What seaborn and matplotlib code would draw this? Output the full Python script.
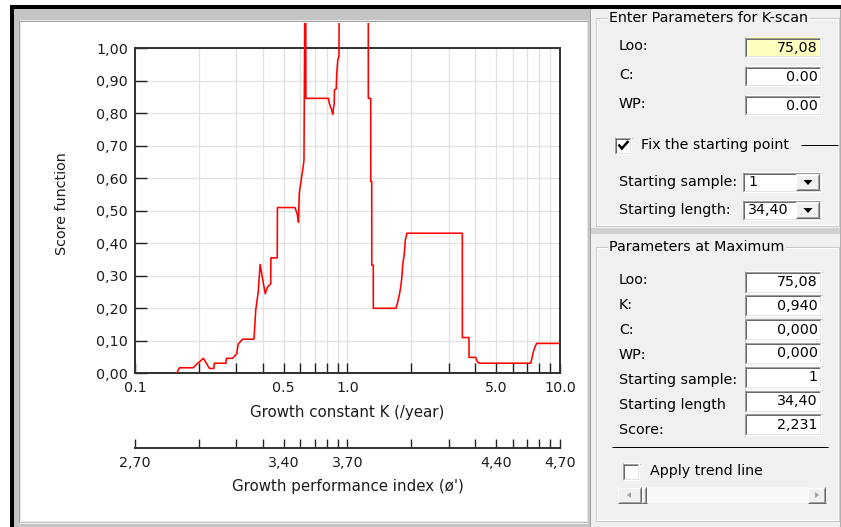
import numpy as np
import pandas as pd
import matplotlib
matplotlib.use("Agg")
import matplotlib.pyplot as plt
import seaborn as sns
from matplotlib.patches import Rectangle, Polygon

# ---------------- data ----------------
K_VALUES = [
    0.157, 0.162, 0.188, 0.195, 0.210, 0.224, 0.235, 0.236, 0.268, 0.269, 0.288, 0.301, 0.306, 0.321,
    0.363, 0.370, 0.380, 0.388, 0.395, 0.410, 0.420, 0.435, 0.436, 0.467, 0.468,
    0.566, 0.580, 0.588, 0.593, 0.604, 0.615, 0.624, 0.635, 0.637,
    0.812, 0.822, 0.843, 0.852, 0.866, 0.868, 0.885, 0.890, 0.900, 0.912, 0.916,
    0.940, 1.050, 1.150, 1.252, 1.253, 1.286, 1.287, 1.300, 1.301, 1.322, 1.323,
    1.691, 1.716, 1.753, 1.780, 1.800, 1.819, 1.851, 1.871, 1.905,
    3.470, 3.471, 3.730, 3.731, 4.010, 4.080, 4.160,
    7.280, 7.380, 7.490, 7.630, 7.770, 10.0,
]
SCORES = [
    0.000, 0.017, 0.017, 0.028, 0.046, 0.015, 0.015, 0.031, 0.031, 0.046, 0.046, 0.060, 0.090, 0.105,
    0.105, 0.195, 0.250, 0.335, 0.305, 0.245, 0.265, 0.275, 0.355, 0.355, 0.510,
    0.510, 0.490, 0.465, 0.555, 0.590, 0.625, 0.655, 1.600, 0.846,
    0.846, 0.830, 0.810, 0.797, 0.830, 0.872, 0.875, 0.923, 0.965, 0.975, 1.500,
    2.231, 2.000, 1.700, 1.500, 0.846, 0.846, 0.590, 0.590, 0.333, 0.333, 0.200,
    0.200, 0.215, 0.241, 0.266, 0.292, 0.333, 0.369, 0.410, 0.431,
    0.431, 0.110, 0.110, 0.049, 0.049, 0.036, 0.031,
    0.031, 0.046, 0.066, 0.082, 0.092, 0.092,
]
K_TICKS = [0.1, 0.2, 0.3, 0.4, 0.5, 0.6, 0.7, 0.8, 0.9, 1, 2, 3, 4, 5, 6, 7, 8, 9, 10]
K_TICK_LABELS = ["0.1", "", "", "", "0.5", "", "", "", "", "1.0",
                 "", "", "", "5.0", "", "", "", "", "10.0"]
PHI_TICK_LABELS = ["2,70", "", "", "", "3,40", "", "", "", "", "3,70",
                   "", "", "", "4,40", "", "", "", "", "4,70"]
SCORE_TICKS = [0.0, 0.1, 0.2, 0.3, 0.4, 0.5, 0.6, 0.7, 0.8, 0.9, 1.0]
SCORE_TICK_LABELS = ["0,00", "0,10", "0,20", "0,30", "0,40", "0,50",
                     "0,60", "0,70", "0,80", "0,90", "1,00"]

KSCAN_FIELDS = ["Loo:", "C:", "WP:"]
KSCAN_VALUES = ["75,08", "0.00", "0.00"]
MAX_FIELDS = ["Loo:", "K:", "C:", "WP:", "Starting sample:", "Starting length", "Score:"]
MAX_VALUES = ["75,08", "0,940", "0,000", "0,000", "1", "34,40", "2,231"]

# ---------------- figure ----------------
W, H = 841, 527
plt.rcParams["font.family"] = ["DejaVu Sans"]
FS = 10.3
TXT = "#1c1c1c"
fig = plt.figure(figsize=(W / 100, H / 100), dpi=100)
fig.patch.set_facecolor("white")

bg = fig.add_axes([0, 0, 1, 1])
bg.set_xlim(0, W)
bg.set_ylim(H, 0)
bg.axis("off")
bg.set_zorder(0)

PX = 0.72  # 1 px in points


def rect(x0, y0, x1, y1, fc, ec="none", lw=0, z=1):
    bg.add_patch(Rectangle((x0, y0), x1 - x0, y1 - y0, facecolor=fc,
                           edgecolor=ec, linewidth=lw, zorder=z))


def hline(x0, x1, y, c, w=1, z=2):
    bg.plot([x0, x1], [y, y], color=c, lw=w * PX, solid_capstyle="butt", zorder=z)


def vline(x, y0, y1, c, w=1, z=2):
    bg.plot([x, x], [y0, y1], color=c, lw=w * PX, solid_capstyle="butt", zorder=z)


def sunken(x0, y0, x1, y1, fc="white"):
    rect(x0, y0, x1, y1, fc, z=2)
    hline(x0, x1, y0 + 0.5, "#a0a0a0", z=3)
    vline(x0 + 0.5, y0, y1, "#a0a0a0", z=3)
    hline(x0 + 1, x1 - 1, y0 + 1.5, "#696969", z=3)
    vline(x0 + 1.5, y0 + 1, y1 - 1, "#696969", z=3)
    hline(x0, x1, y1 - 0.5, "#ffffff", z=3)
    vline(x1 - 0.5, y0, y1, "#ffffff", z=3)
    hline(x0 + 1, x1 - 1, y1 - 1.5, "#e3e3e3", z=3)
    vline(x1 - 1.5, y0 + 1, y1 - 1, "#e3e3e3", z=3)


def raised(x0, y0, x1, y1, fc="#f0f0f0"):
    rect(x0, y0, x1, y1, fc, z=4)
    hline(x0, x1, y0 + 0.5, "#ffffff", z=5)
    vline(x0 + 0.5, y0, y1, "#ffffff", z=5)
    hline(x0, x1, y1 - 0.5, "#696969", z=5)
    vline(x1 - 0.5, y0, y1, "#696969", z=5)
    hline(x0 + 1, x1 - 1, y1 - 1.5, "#a0a0a0", z=5)
    vline(x1 - 1.5, y0 + 1, y1 - 1, "#a0a0a0", z=5)


def label(x, y, s, ha="left", size=FS, color="#000000", z=6, **kw):
    bg.text(x, y, s, ha=ha, va="center", fontsize=size, color=color, zorder=z, **kw)


# window chrome: black frame
rect(10, 5, W, 9, "#000000", z=1)
rect(10, 5, 14, H, "#000000", z=1)
# left panel frame and white chart area
rect(14, 9, 593, H, "#c4c4c4", z=1)
rect(19, 20, 588, 522, "#e8e8e8", z=1)
rect(21, 22, 587, 521, "white", z=1)
hline(19, 588, 20.5, "#a0a0a0")
vline(19.5, 20, 522, "#a0a0a0")
hline(19, 588, 522.5, "#f4f4f4")
vline(590.5, 9, H, "#a0a0a0")
# right panel
rect(591, 9, W, H, "#f0f0f0", z=1)
vline(840.5, 9, H, "#b0b0b0")
rect(591, 228, W, 234, "#d0d0d0", z=1)


def groupbox(x0, y0, x1, y1, title):
    bg.add_patch(Rectangle((x0, y0), x1 - x0, y1 - y0, facecolor="none",
                           edgecolor="#c8c8c8", lw=PX, zorder=2))
    bg.add_patch(Rectangle((x0 + 1, y0 + 1), x1 - x0 - 2, y1 - y0 - 2, facecolor="none",
                           edgecolor="#ffffff", lw=PX, zorder=2))
    bg.text(x0 + 13, y0, title, ha="left", va="center", fontsize=FS, color="#000000",
            zorder=6, bbox=dict(facecolor="#f0f0f0", edgecolor="none", pad=1.0))


groupbox(596, 18, 839, 226, "Enter Parameters for K-scan")
groupbox(596, 247, 839, 521, "Parameters at Maximum")

# group 1 fields
for i, (name, val) in enumerate(zip(KSCAN_FIELDS, KSCAN_VALUES)):
    yc = 47 + 29 * i
    fill = "#ffffc0" if i == 0 else "white"
    label(619, yc - 1, name)
    sunken(745, yc - 10, 822, yc + 10, fc=fill)
    label(818, yc + 1, val, ha="right")

# checkbox "Fix the starting point"
sunken(615, 137, 632, 154)
bg.plot([618.5, 621.8, 628.5], [144.5, 148.5, 141.0], color="#000000", lw=2.0 * PX * 1.2,
        solid_capstyle="butt", solid_joinstyle="miter", zorder=6)
label(641, 145, "Fix the starting point")
hline(801, 838, 145, "#000000")

# combo boxes
COMBO_LABELS = ["Starting sample:", "Starting length:"]
COMBO_VALUES = ["1", "34,40"]
for i, (name, val) in enumerate(zip(COMBO_LABELS, COMBO_VALUES)):
    yc = 182 + 28 * i
    label(619, yc, name)
    sunken(743, yc - 10, 822, yc + 10)
    label(748, yc, val)
    raised(796, yc - 8, 820, yc + 8)
    bg.add_patch(Polygon([[803.5, yc - 2], [812.5, yc - 2], [808, yc + 3]],
                         closed=True, facecolor="#000000", edgecolor="none", zorder=6))

# group 2 fields
for i, (name, val) in enumerate(zip(MAX_FIELDS, MAX_VALUES)):
    yb = 282 + 23.8 * i
    label(619, 280.5 + 24.9 * i, name)
    sunken(745, yb - 11, 822, yb + 11)
    label(818, yb, val, ha="right")

hline(612, 828, 447, "#000000")
sunken(623, 463, 640, 480)
label(650, 471, "Apply trend line")
# scrollbar
rect(618, 487, 826, 503, "#f8f8f8", z=2)
raised(618, 487, 642, 503)
raised(808, 487, 826, 503)
raised(642, 487, 647, 503)
bg.add_patch(Polygon([[627, 495], [631, 492], [631, 498]], closed=True,
                     facecolor="#a0a0a0", edgecolor="none", zorder=6))
bg.add_patch(Polygon([[819, 495], [815, 492], [815, 498]], closed=True,
                     facecolor="#a0a0a0", edgecolor="none", zorder=6))

# ---------------- main chart ----------------
AX_L, AX_R, AX_T, AX_B = 135, 560, 48.3, 373.3
ax = fig.add_axes([AX_L / W, 1 - AX_B / H, (AX_R - AX_L) / W, (AX_B - AX_T) / H])
ax.set_zorder(5)
ax.set_facecolor("white")

df = pd.DataFrame({"K": K_VALUES, "score": SCORES})
sns.lineplot(data=df, x="K", y="score", sort=False, estimator=None,
             color="#ff0000", linewidth=1.15, ax=ax, zorder=4)

ax.set_xscale("log")
ax.set_xlim(0.1, 10)
ax.set_ylim(0, 1)

# the curve may run up to the top of the white panel (beyond the axes frame)
panel_top = (AX_B - 22.5) / (AX_B - AX_T)
clip = Rectangle((0, 0), 1, panel_top, transform=ax.transAxes)
for ln in ax.lines:
    ln.set_clip_path(clip)

ax.set_xticks(K_TICKS, labels=K_TICK_LABELS)
ax.xaxis.set_minor_locator(matplotlib.ticker.NullLocator())
ax.set_yticks(SCORE_TICKS, labels=SCORE_TICK_LABELS)
ax.tick_params(axis="x", direction="in", length=7.2, width=1.0, color="#222222",
               pad=5.5, labelsize=FS, labelcolor=TXT)
ax.tick_params(axis="y", direction="in", length=8.6, width=1.0, color="#222222",
               pad=5.0, labelsize=FS, labelcolor=TXT)
ax.grid(True, which="major", color="#e2e2e2", linewidth=1.0 * PX * 1.3)
ax.set_axisbelow(True)
for sp in ax.spines.values():
    sp.set_color("#303030")
    sp.set_linewidth(1.4)

ax.set_xlabel("Growth constant K (/year)", fontsize=10.8, color=TXT, va="center")
ax.xaxis.set_label_coords(347.5 / W, 1 - 413 / H, transform=fig.transFigure)
ax.set_ylabel("Score function", fontsize=FS, color=TXT, va="center", ha="center")
ax.yaxis.set_label_coords(62 / W, 1 - 204 / H, transform=fig.transFigure)

# ---------------- growth performance index axis ----------------
PHI_Y = 448
ax2 = fig.add_axes([AX_L / W, 1 - PHI_Y / H, (AX_R - AX_L) / W, 10 / H])
ax2.set_zorder(5)
ax2.patch.set_alpha(0)
ax2.set_xscale("log")
ax2.set_xlim(0.1, 10)
ax2.set_xticks(K_TICKS, labels=PHI_TICK_LABELS)
ax2.xaxis.set_minor_locator(matplotlib.ticker.NullLocator())
ax2.set_yticks([])
for name in ("top", "left", "right"):
    ax2.spines[name].set_visible(False)
ax2.spines["bottom"].set_color("#303030")
ax2.spines["bottom"].set_linewidth(1.4)
ax2.tick_params(axis="x", direction="in", length=6.5, width=1.0, color="#222222",
                pad=5.5, labelsize=FS, labelcolor=TXT)
ax2.set_xlabel("Growth performance index (\u00f8')", fontsize=10.8, color=TXT, va="center")
ax2.xaxis.set_label_coords(347.5 / W, 1 - 487 / H, transform=fig.transFigure)

fig.savefig("out.png", dpi=100, facecolor=fig.get_facecolor())
